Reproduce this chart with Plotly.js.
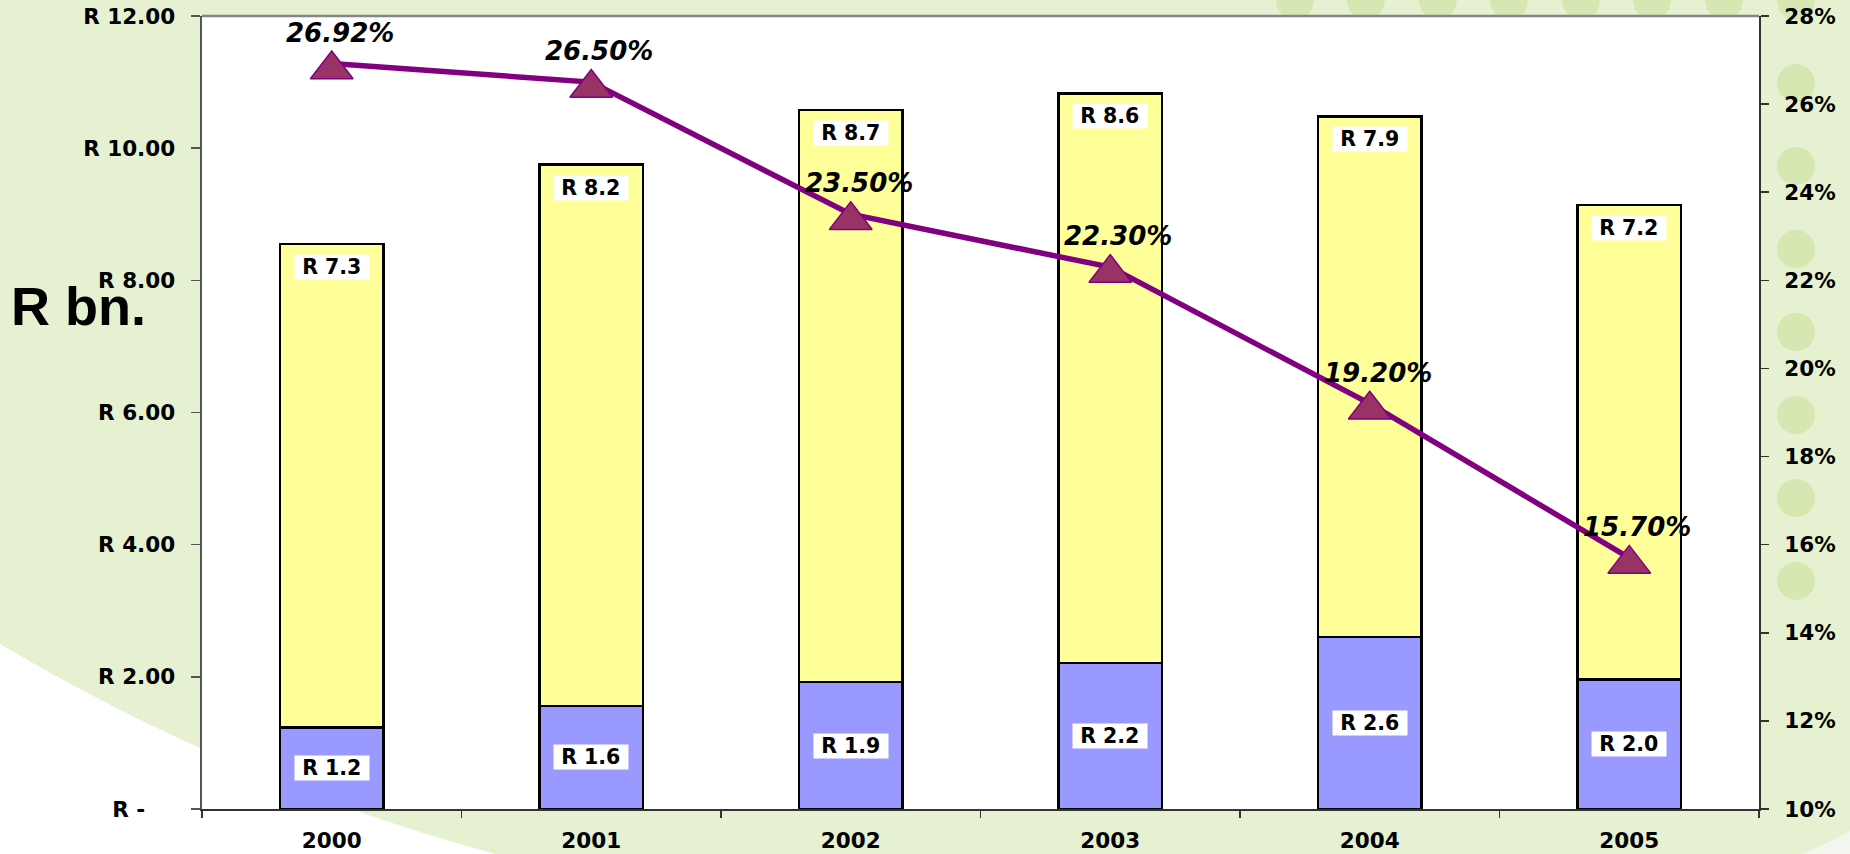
<!DOCTYPE html>
<html>
<head>
<meta charset="utf-8">
<script src="https://cdn.plot.ly/plotly-3.0.1.min.js"></script>
<style>html,body{margin:0;padding:0;background:#e5f1d1;}#chart{width:1850px;height:854px;}</style>
</head>
<body>
<div id="chart"></div>
<script>
// ---- data ----
const years = ["2000", "2001", "2002", "2003", "2004", "2005"];
const lowerValues = [1.23, 1.56, 1.92, 2.21, 2.60, 1.96];   // blue segment (R bn.)
const upperValues = [7.32, 8.19, 8.66, 8.62, 7.88, 7.18];   // yellow segment (R bn.)
const ratioValues = [26.92, 26.50, 23.50, 22.30, 19.20, 15.70]; // percent, right axis
const leftTickVals = [0, 2, 4, 6, 8, 10, 12];
const leftTickText = ["R -\u00a0\u00a0\u00a0\u00a0", "R 2.00", "R 4.00", "R 6.00", "R 8.00", "R 10.00", "R 12.00"];
const rightTickVals = [10, 12, 14, 16, 18, 20, 22, 24, 26, 28];
const rightTickText = ["10%", "12%", "14%", "16%", "18%", "20%", "22%", "24%", "26%", "28%"];

// ---- layout geometry (pixels) ----
const L = 202, R = 1759, T = 16, B = 809;
const W = R - L, H = B - T;
const px = x => (x - L) / W;
const py = y => (B - y) / H;
const rightRange = [10, 28];
// markers are centred on their bounding box in the original: shift marker axis by a few pixels
const markerShift = 6 * (rightRange[1] - rightRange[0]) / H;

const tickFont = {family: "DejaVu Sans, Arial, sans-serif", size: 21.5, color: "#000", weight: "bold"};
const labelFont = {family: "DejaVu Sans, Arial, sans-serif", size: 20.5, color: "#000", weight: "bold"};

const traces = [
  {
    type: "bar", x: years, y: lowerValues, name: "lower",
    marker: {color: "#9999ff", line: {color: "#000", width: 2.5}},
    hoverinfo: "skip"
  },
  {
    type: "bar", x: years, y: upperValues, name: "upper",
    marker: {color: "#ffff99", line: {color: "#000", width: 2.5}},
    hoverinfo: "skip"
  },
  {
    type: "scatter", mode: "lines", x: years, y: ratioValues, yaxis: "y2",
    line: {color: "#800080", width: 5.5},
    hoverinfo: "skip"
  },
  {
    type: "scatter", mode: "markers", x: years, y: ratioValues, yaxis: "y3",
    marker: {symbol: "triangle-up", size: 37, color: "#993366", line: {color: "#800080", width: 1.5}},
    hoverinfo: "skip"
  }
];

const annotations = [];
years.forEach((yr, i) => {
  const total = lowerValues[i] + upperValues[i];
  annotations.push({
    x: i, y: total, xref: "x", yref: "y", yanchor: "top", yshift: -10,
    text: "\u00a0R " + upperValues[i].toFixed(1) + "\u00a0", showarrow: false,
    bgcolor: "#ffffff", borderpad: 0, font: labelFont
  });
  annotations.push({
    x: i, y: lowerValues[i] / 2, xref: "x", yref: "y", yanchor: "middle",
    text: "\u00a0R " + lowerValues[i].toFixed(1) + "\u00a0", showarrow: false,
    bgcolor: "#ffffff", borderpad: 0, font: labelFont
  });
  annotations.push({
    x: i, y: ratioValues[i], xref: "x", yref: "y2", xshift: 8, yshift: 31,
    text: ratioValues[i].toFixed(2) + "%", showarrow: false,
    font: {family: "DejaVu Sans, Arial, sans-serif", size: 26, color: "#000", weight: "bold", style: "italic"}
  });
});
annotations.push({
  xref: "paper", yref: "paper", x: px(78), y: py(306), xanchor: "center", yanchor: "middle",
  text: "R bn.", showarrow: false,
  font: {family: "Liberation Sans, Arial, sans-serif", size: 54, color: "#000", weight: "bold"}
});

const shapes = [];
// white lower-left corner of slide background
shapes.push({
  type: "path", xref: "paper", yref: "paper", layer: "below",
  path: `M ${px(-5)},${py(641)} Q ${px(238)},${py(786)} ${px(510)},${py(858)} L ${px(-5)},${py(858)} Z`,
  fillcolor: "#ffffff", line: {width: 0}
});
// white lower-right corner
shapes.push({
  type: "path", xref: "paper", yref: "paper", layer: "below",
  path: `M ${px(1790)},${py(858)} Q ${px(1825)},${py(846)} ${px(1855)},${py(828)} L ${px(1855)},${py(858)} Z`,
  fillcolor: "#f3f5ef", line: {width: 0}
});
// decorative circles along top and right
const topCircleX = [1295, 1366, 1438, 1509, 1581, 1652, 1724, 1796];
topCircleX.forEach(cx => shapes.push({
  type: "circle", xref: "paper", yref: "paper", layer: "below",
  x0: px(cx - 19), x1: px(cx + 19), y0: py(20), y1: py(-20),
  fillcolor: "#d5e5ad", opacity: 0.85, line: {width: 0}
}));
const rightCircleY = [83, 166, 249, 332, 415, 498, 581];
rightCircleY.forEach(cy => shapes.push({
  type: "circle", xref: "paper", yref: "paper", layer: "below",
  x0: px(1777), x1: px(1815), y0: py(cy + 19), y1: py(cy - 19),
  fillcolor: "#d5e5ad", opacity: 0.85, line: {width: 0}
}));
// white plot area
shapes.push({
  type: "rect", xref: "paper", yref: "paper", layer: "below",
  x0: 0, x1: 1, y0: 0, y1: 1, fillcolor: "#ffffff", line: {width: 0}
});
// top border (gray)
shapes.push({
  type: "line", xref: "paper", yref: "paper", layer: "above",
  x0: 0, x1: 1, y0: 1, y1: 1, line: {color: "#858585", width: 2.5}
});

const layout = {
  width: 1850, height: 854, autosize: false,
  margin: {l: L, r: 1850 - R, t: T, b: 854 - B, pad: 0},
  paper_bgcolor: "#e5f1d1",
  plot_bgcolor: "rgba(0,0,0,0)",
  barmode: "stack",
  bargap: 0.6,
  showlegend: false,
  xaxis: {
    type: "category", range: [-0.5, years.length - 0.5], autorange: false,
    tickson: "boundaries", ticks: "outside", ticklen: 7, tickwidth: 1.5, tickcolor: "#333",
    showline: true, linecolor: "#333", linewidth: 2, showgrid: false, zeroline: false,
    tickfont: tickFont, ticklabelstandoff: 11, tickangle: 0, fixedrange: true
  },
  yaxis: {
    range: [0, 12], autorange: false, tickvals: leftTickVals, ticktext: leftTickText,
    ticks: "outside", ticklen: 9, tickwidth: 1.5, tickcolor: "#555",
    showline: true, linecolor: "#555", linewidth: 2.5, showgrid: false, zeroline: false,
    tickfont: tickFont, ticklabelstandoff: 11, fixedrange: true
  },
  yaxis2: {
    range: rightRange, autorange: false, tickvals: rightTickVals, ticktext: rightTickText, overlaying: "y", side: "right",
    ticks: "outside", ticklen: 8, tickwidth: 1.5, tickcolor: "#333",
    showline: true, linecolor: "#333", linewidth: 2, showgrid: false, zeroline: false,
    tickfont: tickFont, ticklabelstandoff: 11, fixedrange: true
  },
  yaxis3: {
    range: [rightRange[0] + markerShift, rightRange[1] + markerShift], autorange: false,
    overlaying: "y", side: "right", visible: false, fixedrange: true
  },
  annotations: annotations,
  shapes: shapes
};

Plotly.newPlot("chart", traces, layout, {displayModeBar: false, staticPlot: true});
</script>
</body>
</html>
